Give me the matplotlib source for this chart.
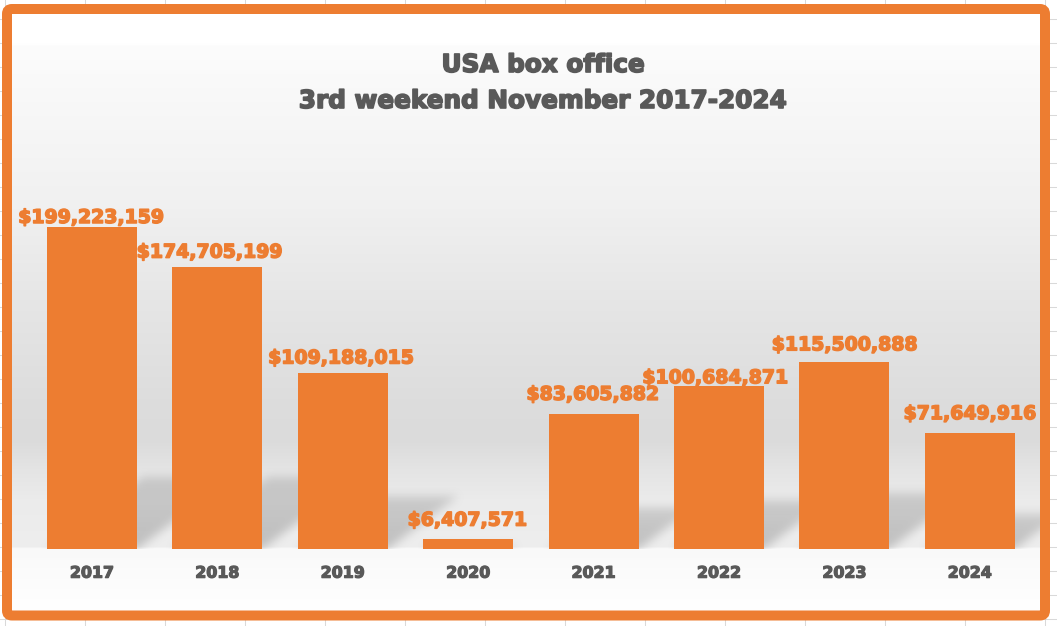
import numpy as np
import matplotlib
matplotlib.use("Agg")
import matplotlib.pyplot as plt
from matplotlib.patches import FancyBboxPatch
import matplotlib.patheffects as pe

# ---------------- data ----------------
years = ["2017", "2018", "2019", "2020", "2021", "2022", "2023", "2024"]
gross = [199223159, 174705199, 109188015, 6407571,
         83605882, 100684871, 115500888, 71649916]
title_lines = ["USA box office", "3rd weekend November 2017-2024"]

# label placement tweaks (pixels): horizontal shift, gap above bar top
label_dx = [-1, -8, -2, -1, -1, -4, 0, 0]
label_gap = [4, 9, 9, 13, 14, 3, 12, 14]

ORANGE = "#ED7D31"
GREY = "#595959"
W, H = 1057, 626
plt.rcParams["font.family"] = ["DejaVu Sans"]


def heavy(color, lw=1.1):
    return [pe.withStroke(linewidth=lw, foreground=color)]


fig = plt.figure(figsize=(W / 100, H / 100), dpi=100)
bg = fig.add_axes([0, 0, 1, 1])
bg.set_xlim(0, W)
bg.set_ylim(H, 0)
bg.axis("off")

# spreadsheet grid behind the chart object
for x in range(5, W, 80):
    bg.plot([x, x], [0, H], color="#d9d9d9", lw=0.75, zorder=0)
for y in range(19, H, 24):
    bg.plot([0, W], [y, y], color="#d9d9d9", lw=0.75, zorder=0)

# chart area gradient
stops_y = [14, 44, 46, 200, 300, 400, 440, 470, 500, 548, 549, 600, 611]
stops_c = [255, 255, 252, 241, 230, 221, 219, 228, 235, 238, 249, 254, 255]
ys = np.arange(14, 612) + 0.5
vals = np.interp(ys, stops_y, stops_c) / 255.0
grad = np.repeat(vals[:, None, None], 3, axis=2)
bg.imshow(grad, extent=(12, 1040, 611, 14), aspect="auto", zorder=1,
          interpolation="bilinear")

# ---------------- main axes ----------------
ax_left, ax_right = 29.3, 1032.5
ax_top, ax_base = 100.0, 549.0
px_per_unit = 322.0 / 199223159
ymax = (ax_base - ax_top) / px_per_unit
ax = fig.add_axes([ax_left / W, (H - ax_base) / H,
                   (ax_right - ax_left) / W, (ax_base - ax_top) / H])
ax.set_xlim(-0.5, 7.5)
ax.set_ylim(0, ymax)
ax.patch.set_alpha(0)
for s in ax.spines.values():
    s.set_visible(False)
ax.set_yticks([])
xpos = np.arange(len(years))
bar_w = 90 / 125.4
ax.bar(xpos, gross, width=bar_w, color=ORANGE, zorder=3)
ax.set_xticks(xpos)
ax.set_xticklabels(years, fontsize=11.4, fontweight="bold", color=GREY)
for t in ax.get_xticklabels():
    t.set_path_effects(heavy(GREY, 0.9))
ax.tick_params(axis="x", length=0, pad=12.0)

for i, v in enumerate(gross):
    ax.annotate(f"${v:,}", xy=(i, v),
                xytext=(label_dx[i] * 0.72, label_gap[i] * 0.72),
                textcoords="offset points", ha="center", va="baseline",
                fontsize=13.6, fontweight="bold", color=ORANGE, zorder=4,
                path_effects=heavy(ORANGE, 1.1))

# ---------------- cast shadows of bars (decoration) ----------------
yy, xx = np.mgrid[0:H, 0:W] + 0.5
mask = np.zeros((H, W))
for i, v in enumerate(gross):
    (xl, yb) = ax.transData.transform((i - bar_w / 2, 0))
    (xr, yt) = ax.transData.transform((i + bar_w / 2, v))
    yb_px, yt_px = H - yb, H - yt
    h = yb_px - yt_px
    dy = min(0.3 * h, 72)
    dx = dy / 0.75
    if dy < 1:
        continue
    t = (yb_px - yy) / dy
    x0 = xx - t * dx
    inside = (t >= 0) & (t <= 1) & (x0 >= xl) & (x0 <= xr)
    mask = np.maximum(mask, np.where(inside, 1.0 - 0.3 * t, 0.0))


def box_blur(a, r):
    k = 2 * r + 1
    for axis in (0, 1):
        pad = [(0, 0), (0, 0)]
        pad[axis] = (r, r)
        p = np.pad(a, pad, mode="edge")
        c = np.cumsum(p, axis=axis)
        if axis == 0:
            c = np.vstack([np.zeros((1, c.shape[1])), c])
            a = (c[k:] - c[:-k]) / k
        else:
            c = np.hstack([np.zeros((c.shape[0], 1)), c])
            a = (c[:, k:] - c[:, :-k]) / k
    return a


for _ in range(3):
    mask = box_blur(mask, 4)
mask[yy > ax_base] = 0
mask[:, :12] = 0
mask[:, 1040:] = 0
shadow = np.zeros((H, W, 4))
shadow[..., :3] = 0.45
shadow[..., 3] = 0.38 * mask
bg.imshow(shadow, extent=(0, W, H, 0), aspect="auto", zorder=2,
          interpolation="nearest")

# orange rounded frame
frame = FancyBboxPatch((7, 9), 1038, 606.5,
                       boxstyle="round,pad=0,rounding_size=5",
                       fc="none", ec=ORANGE, lw=7.2, zorder=5)
bg.add_patch(frame)
bg.set_xlim(0, W)
bg.set_ylim(H, 0)

# title
for txt, ybase in zip(title_lines, (72, 108)):
    fig.text(543.5 / W, 1 - ybase / H, txt, ha="center", va="baseline",
             fontsize=17.8, fontweight="bold", color=GREY,
             path_effects=heavy(GREY, 1.2))

fig.savefig("out.png", dpi=100)
